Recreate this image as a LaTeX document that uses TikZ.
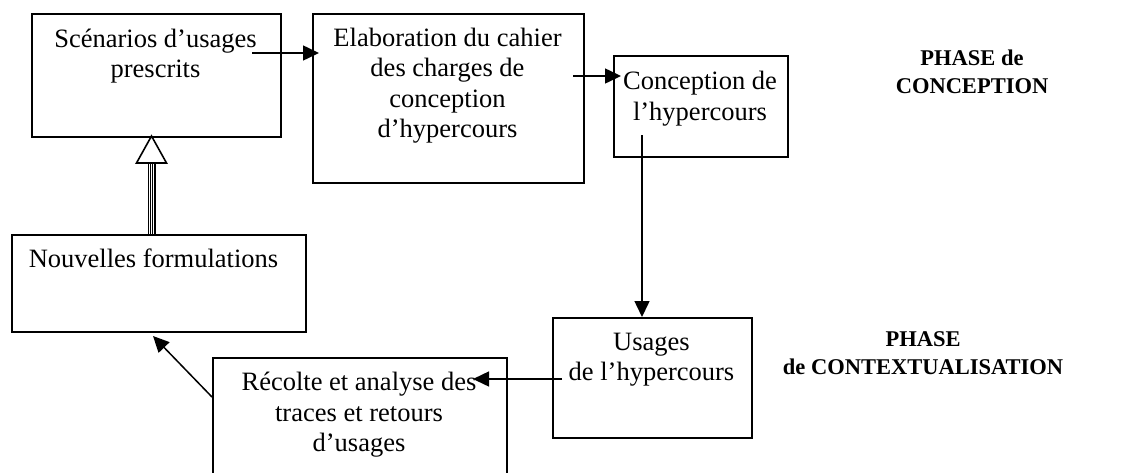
\documentclass[tikz,border=0pt]{standalone}
\usepackage{fontspec}
\setmainfont{Liberation Serif}
\usetikzlibrary{arrows.meta,calc}
\begin{document}
\begin{tikzpicture}[x=1pt,y=-1pt,
  box/.style={draw, line width=1.7pt, inner sep=0pt, anchor=north west},
  txt/.style={align=center, inner sep=0pt, font=\fontsize{26.5}{30.5}\selectfont},
  phase/.style={align=center, inner sep=0pt, font=\fontsize{22.5}{28}\selectfont\bfseries},
  arr/.style={line width=1.5pt, -{Triangle[length=16pt,width=15pt]}}]
\useasboundingbox (0,0) rectangle (1123,472);

% boxes
\node[box, minimum width=249pt, minimum height=123pt] (A) at (31,13) {};
\node[box, minimum width=271pt, minimum height=169pt] (B) at (312,13) {};
\node[box, minimum width=174pt, minimum height=101pt] (C) at (613,55) {};
\node[box, minimum width=199pt, minimum height=120pt] (D) at (552,317) {};
\node[box, minimum width=294pt, minimum height=125pt] (E) at (212,357) {};
\node[box, minimum width=294pt, minimum height=97pt] (F) at (11,234) {};

% texts
\node[txt] (tA) at (155.5,56) {Scénarios d’usages\\prescrits};
\node[txt] (tB) at (447.5,85.5) {Elaboration du cahier\\des charges de\\conception\\d’hypercours};
\node[txt] (tC) at (700,98.5) {Conception de\\l’hypercours};
\node[txt] (tD) at (651.5,359.5) {Usages\\de l’hypercours};
\node[txt] (tE) at (359,415) {Récolte et analyse des\\traces et retours\\d’usages};
\node[txt, anchor=base] (tF) at (153.5,267) {Nouvelles formulations};

\node[phase] (P1) at (972,72) {PHASE de\\CONCEPTION};
\node[phase] (P2) at (923,353) {PHASE\\de CONTEXTUALISATION};

% connector end points
\coordinate (pAB) at (252,53);
\coordinate (pBC) at (573,76);
\coordinate (pCD) at (642,135);
\coordinate (pDE) at (562,379);
\coordinate (qDE) at (473,379);
\coordinate (pEF) at ($(E.north west)+(0,40)$);
\coordinate (qEF) at (153,336);
\coordinate (hF) at (151.5,234);
\coordinate (hA) at (151.5,136);

% arrows
\draw[arr, shorten >=-7pt] (pAB) -- (pAB -| B.west);
\draw[arr, shorten >=-8pt] (pBC) -- (pBC -| C.west);
\draw[arr] (pCD) -- (pCD |- D.north);
\draw[arr] (pDE) -- (qDE);
\draw[arr] (pEF) -- (qEF);

% hollow striped arrow from F to A
\fill ($(hF)+(-4,0)$) rectangle ($(hA)+(4,27)$);
\foreach \dx in {-2,0,2}
  \draw[white, line width=0.35pt] ($(hF)+(\dx,0)$) -- ($(hA)+(\dx,27)$);
\draw[line width=1.6pt, fill=white, line join=miter] (hA) -- ($(hA)+(15,27)$) -- ($(hA)+(-15,27)$) -- cycle;
\end{tikzpicture}
\end{document}
